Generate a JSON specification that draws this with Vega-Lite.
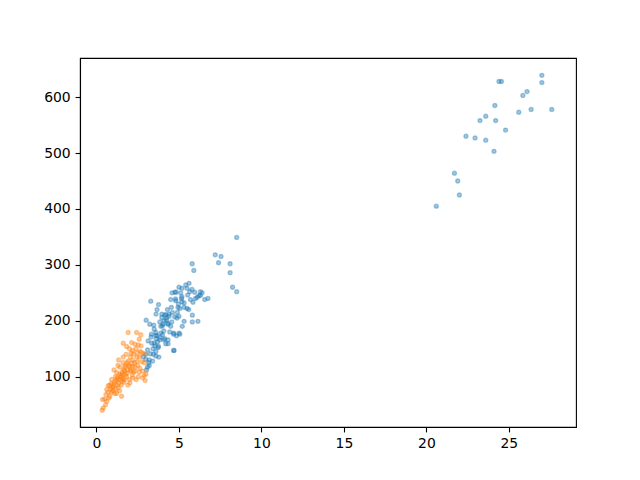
{
  "$schema": "https://vega.github.io/schema/vega-lite/v6.json",
  "autosize": "none",
  "width": 496,
  "height": 369,
  "padding": {"left": 80, "top": 58, "right": 64, "bottom": 53},
  "background": "white",
  "config": {
    "view": {"stroke": "black", "strokeWidth": 1.1},
    "axis": {"grid": false, "labelFont": "DejaVu Sans", "labelFontSize": 13.9, "labelColor": "black", "tickColor": "black", "tickSize": 4.9, "tickWidth": 1.1, "domainColor": "black", "domainWidth": 1.1, "labelPadding": 4.9, "title": null}
  },
  "datasets": {
    "pts": [
      {"s":"a","x":20.6,"y":405},{"s":"a","x":22.0,"y":425},{"s":"a","x":21.9,"y":450},{"s":"a","x":21.7,"y":464},{"s":"a","x":22.4,"y":530},{"s":"a","x":22.95,"y":527},{"s":"a","x":23.6,"y":523},{"s":"a","x":24.1,"y":503},{"s":"a","x":23.25,"y":558},{"s":"a","x":23.6,"y":566},{"s":"a","x":24.2,"y":558},{"s":"a","x":24.15,"y":585},{"s":"a","x":24.8,"y":541},{"s":"a","x":24.4,"y":628},{"s":"a","x":24.55,"y":628},{"s":"a","x":25.6,"y":573},{"s":"a","x":25.85,"y":603},{"s":"a","x":26.1,"y":610},{"s":"a","x":26.35,"y":578},{"s":"a","x":27.0,"y":639},{"s":"a","x":27.0,"y":626},{"s":"a","x":27.6,"y":578},
      {"s":"a","x":8.5,"y":349},{"s":"a","x":7.2,"y":318},{"s":"a","x":7.55,"y":315},{"s":"a","x":7.4,"y":304},{"s":"a","x":8.1,"y":302},{"s":"a","x":8.1,"y":286},{"s":"a","x":5.8,"y":302},{"s":"a","x":5.9,"y":290},{"s":"a","x":8.25,"y":260},{"s":"a","x":8.5,"y":252},
      {"s":"a","x":3.29,"y":235},{"s":"a","x":3.76,"y":229},{"s":"a","x":3.67,"y":220},{"s":"a","x":3.61,"y":212},{"s":"a","x":3.96,"y":212},{"s":"a","x":4.2,"y":211},{"s":"a","x":4.4,"y":208},{"s":"a","x":4.58,"y":250},{"s":"a","x":4.82,"y":251},{"s":"a","x":5.0,"y":260},{"s":"a","x":5.18,"y":243},{"s":"a","x":5.31,"y":232},{"s":"a","x":5.53,"y":246},{"s":"a","x":5.49,"y":222},{"s":"a","x":4.97,"y":230},{"s":"a","x":4.79,"y":239},{"s":"a","x":5.05,"y":222},{"s":"a","x":4.74,"y":207},{"s":"a","x":4.56,"y":198},{"s":"a","x":4.32,"y":195},{"s":"a","x":4.04,"y":194},{"s":"a","x":3.84,"y":198},{"s":"a","x":3.47,"y":192},{"s":"a","x":3.23,"y":194},{"s":"a","x":3.01,"y":201},{"s":"a","x":5.0,"y":208},{"s":"a","x":5.0,"y":178},{"s":"a","x":4.68,"y":178},{"s":"a","x":3.9,"y":178},{"s":"a","x":3.6,"y":179},{"s":"a","x":3.33,"y":176},{"s":"a","x":3.67,"y":173},{"s":"a","x":4.34,"y":166},{"s":"a","x":4.08,"y":166},{"s":"a","x":3.84,"y":166},{"s":"a","x":3.61,"y":168},{"s":"a","x":3.31,"y":171},{"s":"a","x":3.13,"y":164},{"s":"a","x":4.2,"y":159},{"s":"a","x":4.68,"y":147},{"s":"a","x":3.76,"y":154},{"s":"a","x":3.43,"y":150},{"s":"a","x":3.6,"y":145},{"s":"a","x":3.27,"y":141},{"s":"a","x":3.78,"y":135},{"s":"a","x":2.99,"y":131},{"s":"a","x":3.17,"y":125},{"s":"a","x":3.09,"y":117},{"s":"a","x":3.03,"y":112},{"s":"a","x":3.35,"y":160},{"s":"a","x":2.83,"y":136},{"s":"a","x":5.41,"y":264},
      {"s":"a","x":5.61,"y":267},{"s":"a","x":5.18,"y":258},{"s":"a","x":5.49,"y":258},{"s":"a","x":5.79,"y":256},{"s":"a","x":5.95,"y":251},{"s":"a","x":6.3,"y":252},{"s":"a","x":6.21,"y":245},{"s":"a","x":6.56,"y":238},{"s":"a","x":6.76,"y":240},{"s":"a","x":6.11,"y":242},{"s":"a","x":5.65,"y":252},{"s":"a","x":4.76,"y":251},{"s":"a","x":4.5,"y":238},{"s":"a","x":4.8,"y":236},{"s":"a","x":5.15,"y":240},{"s":"a","x":5.18,"y":234},{"s":"a","x":5.85,"y":233},{"s":"a","x":4.54,"y":224},{"s":"a","x":4.94,"y":224},{"s":"a","x":5.31,"y":224},{"s":"a","x":5.59,"y":220},{"s":"a","x":5.81,"y":210},{"s":"a","x":5.81,"y":198},{"s":"a","x":6.15,"y":199},{"s":"a","x":5.31,"y":199},{"s":"a","x":4.88,"y":205},{"s":"a","x":4.4,"y":212},{"s":"a","x":4.14,"y":210},{"s":"a","x":3.96,"y":206},{"s":"a","x":4.24,"y":201},{"s":"a","x":4.34,"y":194},{"s":"a","x":4.0,"y":191},{"s":"a","x":4.08,"y":182},{"s":"a","x":4.44,"y":180},{"s":"a","x":4.68,"y":176},{"s":"a","x":4.85,"y":173},{"s":"a","x":5.05,"y":176},{"s":"a","x":4.7,"y":147},{"s":"a","x":4.34,"y":159},{"s":"a","x":4.14,"y":168},{"s":"a","x":3.6,"y":174},{"s":"a","x":3.73,"y":152},{"s":"a","x":3.6,"y":137},
      {"s":"a","x":3.1,"y":148},{"s":"a","x":3.5,"y":160},{"s":"a","x":3.9,"y":190},{"s":"a","x":4.5,"y":190},{"s":"a","x":5.2,"y":190},{"s":"a","x":6.3,"y":245},{"s":"a","x":6.0,"y":240},{"s":"a","x":6.4,"y":250},{"s":"a","x":3.2,"y":130},{"s":"a","x":3.4,"y":128},{"s":"a","x":3.0,"y":140},{"s":"a","x":3.5,"y":185},{"s":"a","x":4.9,"y":215},{"s":"a","x":4.3,"y":220},{"s":"a","x":5.7,"y":238},
      {"s":"a","x":3.85,"y":170},{"s":"a","x":4.0,"y":175},{"s":"a","x":3.7,"y":162},{"s":"a","x":4.1,"y":200},{"s":"a","x":4.25,"y":205},{"s":"a","x":3.45,"y":140},{"s":"a","x":3.55,"y":155},{"s":"a","x":3.2,"y":120},{"s":"a","x":5.1,"y":250},{"s":"a","x":4.6,"y":215},
      {"s":"b","x":1.92,"y":179},{"s":"b","x":2.43,"y":179},{"s":"b","x":2.69,"y":175},{"s":"b","x":2.59,"y":167},{"s":"b","x":1.62,"y":160},{"s":"b","x":2.13,"y":161},{"s":"b","x":2.33,"y":158},{"s":"b","x":1.82,"y":154},{"s":"b","x":2.53,"y":157},{"s":"b","x":2.19,"y":147},{"s":"b","x":2.47,"y":143},{"s":"b","x":2.75,"y":143},{"s":"b","x":2.91,"y":141},{"s":"b","x":1.34,"y":130},{"s":"b","x":1.62,"y":135},{"s":"b","x":1.92,"y":128},{"s":"b","x":2.19,"y":130},{"s":"b","x":2.47,"y":127},{"s":"b","x":2.75,"y":127},{"s":"b","x":1.42,"y":117},{"s":"b","x":1.72,"y":117},{"s":"b","x":2.02,"y":118},{"s":"b","x":2.33,"y":117},{"s":"b","x":2.63,"y":115},{"s":"b","x":1.06,"y":112},{"s":"b","x":1.22,"y":107},{"s":"b","x":1.58,"y":104},{"s":"b","x":1.82,"y":100},{"s":"b","x":2.16,"y":103},{"s":"b","x":2.53,"y":100},{"s":"b","x":2.79,"y":98},{"s":"b","x":0.92,"y":95},{"s":"b","x":1.18,"y":93},{"s":"b","x":1.42,"y":95},{"s":"b","x":1.66,"y":90},{"s":"b","x":2.02,"y":89},{"s":"b","x":0.71,"y":84},{"s":"b","x":1.02,"y":82},{"s":"b","x":1.32,"y":80},{"s":"b","x":0.62,"y":77},{"s":"b","x":0.92,"y":72},{"s":"b","x":1.22,"y":70},{"s":"b","x":1.52,"y":65},{"s":"b","x":0.57,"y":68},{"s":"b","x":0.37,"y":59},{"s":"b","x":0.62,"y":56},{"s":"b","x":0.41,"y":44},
      {"s":"b","x":0.35,"y":40},{"s":"b","x":0.5,"y":60},{"s":"b","x":0.8,"y":85},{"s":"b","x":0.9,"y":88},{"s":"b","x":1.1,"y":90},{"s":"b","x":1.3,"y":95},{"s":"b","x":1.5,"y":100},{"s":"b","x":1.7,"y":110},{"s":"b","x":1.9,"y":112},{"s":"b","x":2.1,"y":110},{"s":"b","x":2.3,"y":125},{"s":"b","x":2.6,"y":135},{"s":"b","x":2.9,"y":125},{"s":"b","x":3.0,"y":105},{"s":"b","x":2.8,"y":110},{"s":"b","x":1.5,"y":85},{"s":"b","x":1.7,"y":95},{"s":"b","x":2.0,"y":95},{"s":"b","x":1.4,"y":105},{"s":"b","x":1.15,"y":100},{"s":"b","x":0.95,"y":80},{"s":"b","x":1.0,"y":75},{"s":"b","x":1.25,"y":85},{"s":"b","x":1.75,"y":120},{"s":"b","x":2.05,"y":135},{"s":"b","x":2.25,"y":140},{"s":"b","x":2.4,"y":150},{"s":"b","x":2.7,"y":155},{"s":"b","x":2.0,"y":150},{"s":"b","x":1.8,"y":140},{"s":"b","x":1.6,"y":125},{"s":"b","x":1.3,"y":120},{"s":"b","x":1.1,"y":70},{"s":"b","x":1.4,"y":75},{"s":"b","x":0.8,"y":65},{"s":"b","x":0.7,"y":72},{"s":"b","x":2.9,"y":102},{"s":"b","x":2.95,"y":93},{"s":"b","x":2.6,"y":108},{"s":"b","x":2.4,"y":95},{"s":"b","x":1.9,"y":85},{"s":"b","x":2.2,"y":98},
      {"s":"b","x":1.55,"y":108},{"s":"b","x":1.65,"y":112},{"s":"b","x":1.85,"y":106},{"s":"b","x":2.05,"y":112},{"s":"b","x":2.25,"y":108},{"s":"b","x":1.45,"y":102},{"s":"b","x":1.75,"y":104},{"s":"b","x":1.95,"y":120},{"s":"b","x":2.15,"y":124},{"s":"b","x":2.35,"y":110},{"s":"b","x":1.25,"y":98},{"s":"b","x":1.35,"y":88},{"s":"b","x":1.6,"y":96},{"s":"b","x":1.05,"y":86},{"s":"b","x":0.85,"y":78},{"s":"b","x":1.15,"y":78},{"s":"b","x":2.5,"y":120},{"s":"b","x":2.2,"y":118},{"s":"b","x":1.85,"y":125},{"s":"b","x":2.45,"y":135},{"s":"b","x":1.55,"y":92},{"s":"b","x":2.65,"y":145},{"s":"b","x":2.1,"y":142},{"s":"b","x":0.55,"y":50},{"s":"b","x":0.75,"y":62}
    ]
  },
  "data": {"name": "pts"},
  "mark": {"type": "point", "filled": true, "fillOpacity": 0.4, "strokeOpacity": 0.4, "strokeWidth": 1.3, "size": 16},
  "encoding": {
    "x": {"field": "x", "type": "quantitative", "scale": {"domain": [-1.0, 29.07], "nice": false, "zero": false}, "axis": {"values": [0, 5, 10, 15, 20, 25]}},
    "y": {"field": "y", "type": "quantitative", "scale": {"domain": [10, 670], "nice": false, "zero": false}, "axis": {"values": [100, 200, 300, 400, 500, 600]}},
    "color": {"field": "s", "type": "nominal", "scale": {"domain": ["a", "b"], "range": ["#1f77b4", "#ff7f0e"]}, "legend": null},
    "stroke": {"field": "s", "type": "nominal", "scale": {"domain": ["a", "b"], "range": ["#1f77b4", "#ff7f0e"]}, "legend": null},
    "order": {"field": "s", "type": "nominal"}
  }
}
